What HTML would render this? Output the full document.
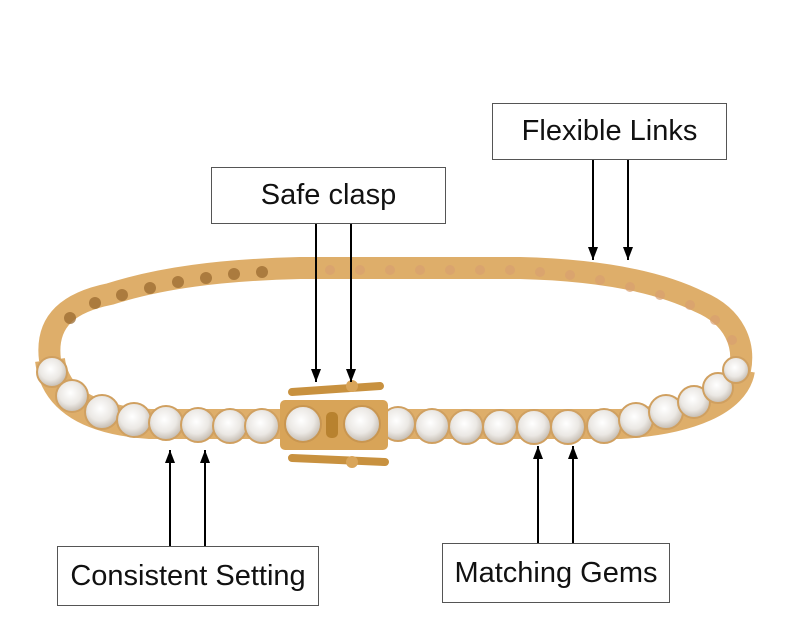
<!DOCTYPE html>
<html><head><style>
body{margin:0;background:#fff;width:787px;height:627px;overflow:hidden;position:relative;font-family:"Liberation Sans",sans-serif}
.box{position:absolute;border:1.5px solid #555;background:#fff;font-size:29px;color:#111;display:flex;align-items:center;justify-content:center;box-sizing:border-box}
svg{position:absolute;left:0;top:0}
</style></head><body>
<svg width="787" height="627" viewBox="0 0 787 627">
<defs>
<radialGradient id="gem" cx="45%" cy="40%" r="60%"><stop offset="0" stop-color="#fff"/><stop offset="0.6" stop-color="#ebe8e4"/><stop offset="1" stop-color="#c4bbb0"/></radialGradient>
<marker id="ah" markerWidth="14" markerHeight="12" refX="13" refY="5" orient="auto" markerUnits="userSpaceOnUse"><path d="M0,0 L13,5 L0,10 z" fill="#000"/></marker>
</defs>
<!-- back band -->
<path d="M50,360 C45,320 70,302 110,294 C160,278 220,270 300,268 L520,268 C600,270 660,282 700,302 C735,317 745,345 740,370" fill="none" stroke="#deae6a" stroke-width="22"/>
<g fill="#9a6a30" opacity="0.75">
<circle cx="70" cy="318" r="6"/><circle cx="95" cy="303" r="6"/><circle cx="122" cy="295" r="6"/><circle cx="150" cy="288" r="6"/><circle cx="178" cy="282" r="6"/><circle cx="206" cy="278" r="6"/><circle cx="234" cy="274" r="6"/><circle cx="262" cy="272" r="6"/>
</g>
<g fill="#d9a070" opacity="0.7">
<circle cx="330" cy="270" r="5"/><circle cx="360" cy="270" r="5"/><circle cx="390" cy="270" r="5"/><circle cx="420" cy="270" r="5"/><circle cx="450" cy="270" r="5"/><circle cx="480" cy="270" r="5"/><circle cx="510" cy="270" r="5"/><circle cx="540" cy="272" r="5"/><circle cx="570" cy="275" r="5"/><circle cx="600" cy="280" r="5"/><circle cx="630" cy="287" r="5"/><circle cx="660" cy="295" r="5"/><circle cx="690" cy="305" r="5"/><circle cx="715" cy="320" r="5"/><circle cx="732" cy="340" r="5"/>
</g>
<!-- front band -->
<path d="M50,360 C55,400 90,420 150,424 L620,424 C690,420 735,400 740,370" fill="none" stroke="#deae6a" stroke-width="30"/>
<g fill="url(#gem)" stroke="#d0a060" stroke-width="2">
<circle cx="52" cy="372" r="15"/><circle cx="72" cy="396" r="16"/><circle cx="102" cy="412" r="17"/><circle cx="134" cy="420" r="17"/><circle cx="166" cy="423" r="17"/><circle cx="198" cy="425" r="17"/><circle cx="230" cy="426" r="17"/><circle cx="262" cy="426" r="17"/>
<circle cx="398" cy="424" r="17"/><circle cx="432" cy="426" r="17"/><circle cx="466" cy="427" r="17"/><circle cx="500" cy="427" r="17"/><circle cx="534" cy="427" r="17"/><circle cx="568" cy="427" r="17"/><circle cx="604" cy="426" r="17"/><circle cx="636" cy="420" r="17"/><circle cx="666" cy="412" r="17"/><circle cx="694" cy="402" r="16"/><circle cx="718" cy="388" r="15"/><circle cx="736" cy="370" r="13"/>
</g>
<!-- clasp -->
<rect x="280" y="400" width="108" height="50" rx="5" fill="#d8a458"/>
<path d="M292,392 L380,386 M292,458 L385,462" stroke="#c8913f" stroke-width="8" stroke-linecap="round"/>
<circle cx="352" cy="386" r="6" fill="#d9a55a"/><circle cx="352" cy="462" r="6" fill="#d9a55a"/>
<circle cx="303" cy="424" r="18" fill="url(#gem)" stroke="#c99650" stroke-width="2"/>
<circle cx="362" cy="424" r="18" fill="url(#gem)" stroke="#c99650" stroke-width="2"/>
<rect x="326" y="412" width="12" height="26" rx="5" fill="#b8822f"/>
<!-- arrows -->
<g stroke="#000" stroke-width="2" fill="none">
<line x1="593" y1="160" x2="593" y2="260" marker-end="url(#ah)"/>
<line x1="628" y1="160" x2="628" y2="260" marker-end="url(#ah)"/>
<line x1="316" y1="224" x2="316" y2="382" marker-end="url(#ah)"/>
<line x1="351" y1="224" x2="351" y2="382" marker-end="url(#ah)"/>
<line x1="170" y1="546" x2="170" y2="450" marker-end="url(#ah)"/>
<line x1="205" y1="546" x2="205" y2="450" marker-end="url(#ah)"/>
<line x1="538" y1="543" x2="538" y2="446" marker-end="url(#ah)"/>
<line x1="573" y1="543" x2="573" y2="446" marker-end="url(#ah)"/>
</g>
</svg>
<div class="box" style="left:492px;top:103px;width:235px;height:57px">Flexible Links</div>
<div class="box" style="left:211px;top:167px;width:235px;height:57px">Safe clasp</div>
<div class="box" style="left:57px;top:546px;width:262px;height:60px">Consistent Setting</div>
<div class="box" style="left:442px;top:543px;width:228px;height:60px">Matching Gems</div>
</body></html>
